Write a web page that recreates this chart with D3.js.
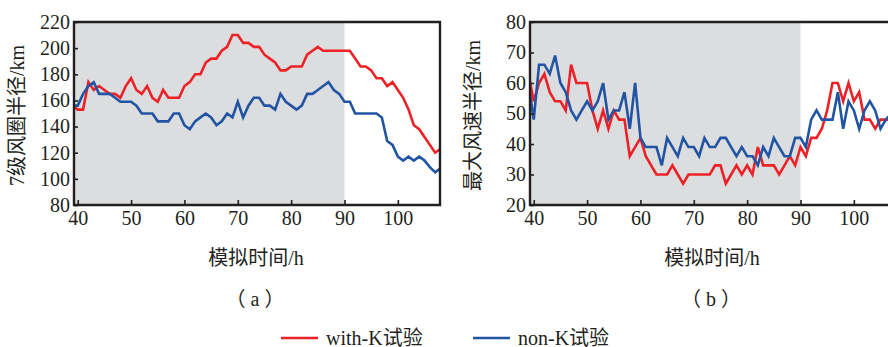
<!DOCTYPE html>
<html>
<head>
<meta charset="utf-8">
<script src="https://cdn.jsdelivr.net/npm/d3@7"></script>
<style>
  body { margin: 0; background: #fff; }
  svg text { font-family: "Liberation Serif", "Noto Sans CJK SC", serif; fill: #231f20; }
</style>
</head>
<body>
<script>
/////////////////////////////////////////////////
// data
/////////////////////////////////////////////////
var hours = [39,40,41,42,43,44,45,46,47,48,49,50,51,52,53,54,55,56,57,58,59,
             60,61,62,63,64,65,66,67,68,69,70,71,72,73,74,75,76,77,78,79,
             80,81,82,83,84,85,86,87,88,89,90,91,92,93,94,95,96,97,98,99,
             100,101,102,103,104,105,106,107,108];

// (a) 7级风圈半径
var galeWithK = [156,153,153,174,168,171,168,165,165,162,171,177,168,165,171,162,159,168,162,162,162,
                 171,174,180,180,189,192,192,198,201,210,210,204,204,201,201,195,192,189,183,183,
                 186,186,186,195,198,201,198,198,198,198,198,198,192,186,186,183,177,177,171,174,
                 168,162,153,141,138,132,126,120,123];
var galeNonK  = [156,156,165,171,174,165,165,165,162,159,159,159,156,150,150,150,144,144,144,150,150,
                 141,138,144,147,150,147,141,144,150,147,159,147,156,162,162,156,156,153,165,159,
                 156,153,156,165,165,168,171,174,168,165,159,159,150,150,150,150,150,147,129,126,
                 117,114,117,114,117,114,109,105,108];

// (b) 最大风速半径
var rmwWithK = [63,54,60,63,57,54,54,51,66,60,60,60,51,45,51,45,51,48,48,36,39,
                42,36,33,30,30,30,33,30,27,30,30,30,30,30,33,33,27,30,33,30,
                33,30,39,33,33,33,30,33,36,33,39,36,42,42,45,51,60,60,54,60,
                54,57,48,48,45,48,48,48,48];
var rmwNonK  = [60,48,66,66,63,69,60,57,51,48,51,54,51,54,60,48,51,51,57,45,60,
                42,39,39,39,33,42,39,36,42,39,39,36,42,39,39,42,42,39,36,39,
                36,36,33,39,36,42,39,36,36,42,42,39,48,51,48,48,48,57,45,54,
                51,45,51,54,51,45,48,50,48];

var xTicks  = [40,50,60,70,80,90,100];
var yTicksA = [80,100,120,140,160,180,200,220];
var yTicksB = [20,30,40,50,60,70,80];

var seriesNames  = ["with-K试验", "non-K试验"];
var seriesColors = ["#ec2227", "#2254a4"];

/////////////////////////////////////////////////
// locals
/////////////////////////////////////////////////
var width = 888, height = 347;
var pw = 366, ph = 183, marginTop = 22;
var shadeEnd = 90;

var svg = d3.select("body").append("svg")
    .attr("width", width)
    .attr("height", height);

/////////////////////////////////////////////////
// drawPanel - one framed chart with shading,
//    two lines, ticks and labels
/////////////////////////////////////////////////
function drawPanel(id, left, yDomain, yTicks, series, yTitle, tag) {
  var x = d3.scaleLinear().domain([39.3, 107.9]).range([0, pw]);
  var y = d3.scaleLinear().domain(yDomain).range([ph, 0]);

  var g = svg.append("g").attr("transform", "translate(" + left + "," + marginTop + ")");

  g.append("clipPath").attr("id", id)
    .append("rect").attr("width", pw).attr("height", ph);

  g.append("rect")
    .attr("width", x(shadeEnd))
    .attr("height", ph)
    .attr("fill", "#dcdddf");

  var line = d3.line()
    .x(function(d, i) { return x(hours[i]); })
    .y(function(d) { return y(d); });

  g.append("g").attr("clip-path", "url(#" + id + ")")
    .selectAll("path").data(series).enter().append("path")
    .attr("d", line)
    .attr("fill", "none")
    .attr("stroke", function(d, i) { return seriesColors[i]; })
    .attr("stroke-width", 2.6)
    .attr("stroke-linejoin", "miter");

  // axes, ticks pointing inside
  var xa = g.append("g").attr("transform", "translate(0," + ph + ")")
    .call(d3.axisBottom(x).tickValues(xTicks).tickSizeInner(-5).tickSizeOuter(0).tickPadding(8));
  var ya = g.append("g")
    .call(d3.axisLeft(y).tickValues(yTicks).tickSizeInner(-4).tickSizeOuter(0).tickPadding(4));
  [xa, ya].forEach(function(a) {
    a.select(".domain").remove();
    a.selectAll("line").attr("stroke", "#231f20").attr("stroke-width", 1.6);
    a.selectAll("text").attr("font-size", 20).attr("fill", "#231f20");
  });
  xa.selectAll("text").attr("dy", "0.6em");

  // frame
  g.append("path")
    .attr("d", "M0,0V" + ph + "H" + pw + "V0Z")
    .attr("fill", "none")
    .attr("stroke", "#231f20")
    .attr("stroke-width", 2.4);

  g.append("text")
    .attr("x", pw / 2 - 1)
    .attr("y", 243)
    .attr("text-anchor", "middle")
    .attr("font-size", 20)
    .text("模拟时间/h");

  g.append("text")
    .attr("x", pw / 2 - 2)
    .attr("y", 284)
    .attr("text-anchor", "middle")
    .attr("font-size", 20)
    .attr("xml:space", "preserve")
    .text(tag);

  g.append("text")
    .attr("transform", "translate(" + (-50) + "," + (ph / 2 + 2) + ") rotate(-90)")
    .attr("text-anchor", "middle")
    .attr("font-size", 20)
    .text(yTitle);
}

drawPanel("clipA", 74, [80, 220], yTicksA, [galeWithK, galeNonK], "7级风圈半径/km", "（ a ）");
drawPanel("clipB", 530, [20, 80], yTicksB, [rmwWithK, rmwNonK], "最大风速半径/km", "（ b ）");

/////////////////////////////////////////////////
// legend
/////////////////////////////////////////////////
var legendX = [281, 473];
var legend = svg.selectAll("g.legend").data(seriesNames).enter().append("g")
    .attr("class", "legend")
    .attr("transform", function(d, i) { return "translate(" + legendX[i] + ",338)"; });
legend.append("line")
    .attr("x1", 0).attr("x2", 37)
    .attr("stroke", function(d, i) { return seriesColors[i]; })
    .attr("stroke-width", 2.6);
legend.append("text")
    .attr("x", 45)
    .attr("dy", "0.35em")
    .attr("font-size", 20)
    .text(function(d) { return d; });
</script>
</body>
</html>
